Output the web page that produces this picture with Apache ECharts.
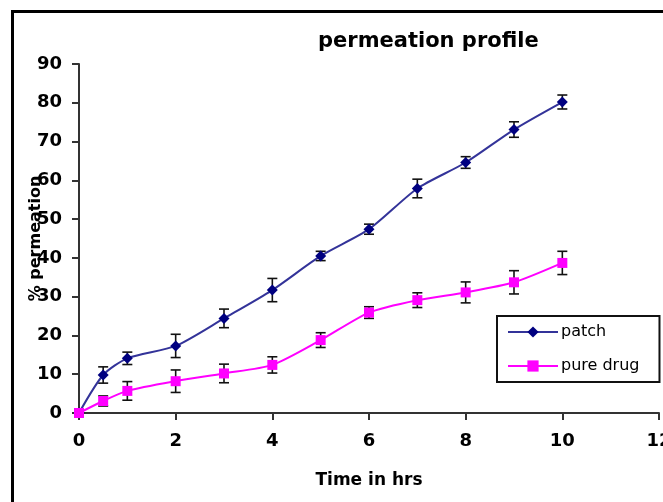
<!DOCTYPE html>
<html lang="en">
<head>
    <meta charset="UTF-8">
    <title>permeation profile</title>
    <script type="text/javascript" src="https://cdn.jsdelivr.net/npm/echarts@6/dist/echarts.min.js"></script>
    <style>
        html, body { margin: 0; padding: 0; background: #fff; }
        #container { width: 663px; height: 502px; }
    </style>
</head>
<body>
<div id="container"></div>
<script type="text/javascript">
    // time points (hrs) and % permeation
    var time = [0, 0.5, 1, 2, 3, 4, 5, 6, 7, 8, 9, 10];
    var patch = [0, 9.8, 14.1, 17.3, 24.4, 31.7, 40.5, 47.4, 57.9, 64.6, 73.1, 80.2];
    var patchErr = [0, 2.1, 1.6, 3.0, 2.4, 3.0, 1.2, 1.3, 2.4, 1.5, 2.0, 1.8];
    var pureDrug = [0, 3.1, 5.7, 8.2, 10.2, 12.4, 18.8, 25.9, 29.1, 31.1, 33.7, 38.7];
    var pureErr = [0, 1.3, 2.4, 2.9, 2.4, 2.1, 1.9, 1.5, 1.9, 2.7, 3.0, 3.0];
    var xTicks = [0, 2, 4, 6, 8, 10, 12];
    var yTicks = [0, 10, 20, 30, 40, 50, 60, 70, 80, 90];

    function pairs(xs, ys) {
        var out = [];
        for (var i = 0; i < xs.length; i++) out.push([xs[i], ys[i]]);
        return out;
    }
    function errRows(xs, ys, es) {
        var out = [];
        for (var i = 0; i < xs.length; i++) out.push([xs[i], ys[i] - es[i], ys[i] + es[i]]);
        return out;
    }

    // whisker with caps
    function drawErr(params, api) {
        var x = api.value(0), lo = api.value(1), hi = api.value(2);
        if (hi - lo <= 0) return;
        var top = api.coord([x, hi]);
        var bot = api.coord([x, lo]);
        var st = { stroke: '#111', lineWidth: 1.6 };
        return {
            type: 'group',
            children: [
                { type: 'line', shape: { x1: top[0], y1: top[1], x2: bot[0], y2: bot[1] }, style: st },
                { type: 'line', shape: { x1: top[0] - 5, y1: top[1], x2: top[0] + 5, y2: top[1] }, style: st },
                { type: 'line', shape: { x1: bot[0] - 5, y1: bot[1], x2: bot[0] + 5, y2: bot[1] }, style: st }
            ]
        };
    }

    var font = 'DejaVu Sans';
    var myChart = echarts.init(document.getElementById('container'), null, { renderer: 'canvas' });

    var option = {
        backgroundColor: '#fff',
        animation: false,
        title: {
            text: 'permeation profile',
            left: 313,
            top: 26,
            textStyle: { fontFamily: font, fontWeight: 'bold', fontSize: 21, color: '#000' }
        },
        graphic: [{
            type: 'rect',
            shape: { x: 12.5, y: 11.5, width: 700, height: 600 },
            style: { fill: 'none', stroke: '#000', lineWidth: 3 },
            silent: true
        }],
        legend: {
            data: ['patch', 'pure drug'],
            orient: 'vertical',
            left: 497,
            top: 316,
            padding: [8, 20, 8, 10],
            itemWidth: 50,
            itemHeight: 14,
            itemGap: 18,
            borderColor: '#111',
            borderWidth: 2,
            borderRadius: 0,
            textStyle: { fontFamily: font, fontSize: 16, color: '#000', lineHeight: 16, padding: [0, 0, 0, -2] }
        },
        grid: { left: 79, right: 4, top: 64, bottom: 89, containLabel: false, outerBoundsMode: 'none' },
        xAxis: {
            type: 'value',
            min: xTicks[0],
            max: xTicks[xTicks.length - 1],
            interval: xTicks[1] - xTicks[0],
            name: 'Time in hrs',
            nameLocation: 'middle',
            nameGap: 59,
            nameMoveOverlap: false,
            nameTextStyle: { fontFamily: font, fontWeight: 'bold', fontSize: 17, color: '#000' },
            axisLine: { lineStyle: { color: '#333', width: 2 } },
            axisTick: { inside: false, length: 7, lineStyle: { color: '#333', width: 2 } },
            axisLabel: { margin: 19, fontFamily: font, fontWeight: 'bold', fontSize: 18, color: '#000' },
            splitLine: { show: false }
        },
        yAxis: {
            type: 'value',
            min: yTicks[0],
            max: yTicks[yTicks.length - 1],
            interval: yTicks[1] - yTicks[0],
            name: '% permeation',
            nameLocation: 'middle',
            nameGap: 35,
            nameMoveOverlap: false,
            nameTextStyle: { fontFamily: font, fontWeight: 'bold', fontSize: 16, color: '#000' },
            axisLine: { show: true, lineStyle: { color: '#333', width: 2 } },
            axisTick: { show: true, inside: false, length: 7, lineStyle: { color: '#333', width: 2 } },
            axisLabel: { margin: 17, fontFamily: font, fontWeight: 'bold', fontSize: 18, color: '#000' },
            splitLine: { show: false }
        },
        series: [
            {
                name: 'patch err',
                type: 'custom',
                renderItem: drawErr,
                data: errRows(time, patch, patchErr),
                encode: { x: 0, y: [1, 2] },
                z: 1,
                silent: true
            },
            {
                name: 'pure drug err',
                type: 'custom',
                renderItem: drawErr,
                data: errRows(time, pureDrug, pureErr),
                encode: { x: 0, y: [1, 2] },
                z: 1,
                silent: true
            },
            {
                name: 'patch',
                type: 'line',
                data: pairs(time, patch),
                smooth: 0.25,
                symbol: 'diamond',
                symbolSize: 11,
                lineStyle: { color: '#333399', width: 2 },
                itemStyle: { color: '#000080' },
                z: 2
            },
            {
                name: 'pure drug',
                type: 'line',
                data: pairs(time, pureDrug),
                smooth: 0.25,
                symbol: 'rect',
                symbolSize: 10,
                lineStyle: { color: '#ff00ff', width: 2 },
                itemStyle: { color: '#ff00ff' },
                z: 3
            }
        ]
    };

    myChart.setOption(option);
    window.addEventListener('resize', myChart.resize);
</script>
</body>
</html>
